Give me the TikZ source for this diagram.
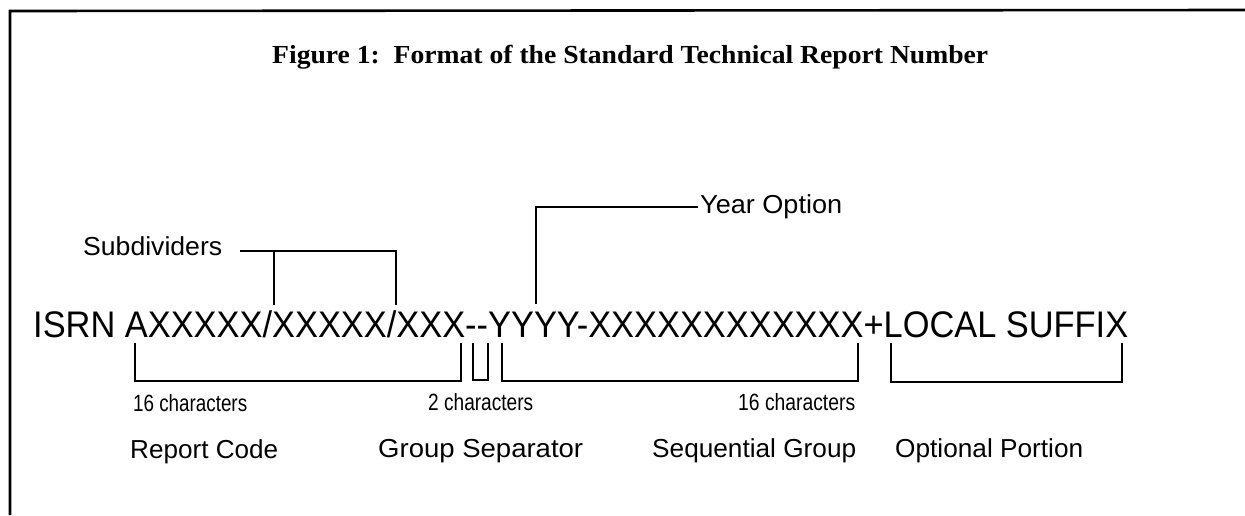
\documentclass[tikz,border=0pt]{standalone}
\usepackage{fontspec}
\usepackage{graphicx}
\setmainfont{Liberation Sans}
\newfontfamily\titlefont{Liberation Serif}
\newcommand\fitto[2]{\resizebox{#1pt}{\height}{#2}}
\begin{document}
\begin{tikzpicture}[x=1pt,y=-1pt,
  txt/.style={inner sep=0pt, anchor=base west},
  lbl/.style={txt, font=\fontsize{26}{30}\selectfont},
  small/.style={txt, font=\fontsize{23.5}{28}\selectfont},
  big/.style={txt, font=\fontsize{37}{42}\selectfont},
  ttl/.style={txt, font=\titlefont\bfseries\fontsize{26}{30}\selectfont},
  frame/.style={line width=2.6pt},
  brk/.style={line width=2.2pt}]
\useasboundingbox (0,0) rectangle (1245,515);
% frame (top and left edges)
\coordinate (fTL) at (10,11);
\coordinate (fTR) at (1245,10);
\coordinate (fBL) at (10,515);
\draw[frame] (fBL) -- (fTL) -- (fTR);
% title
\node[ttl] (title) at (272,63) {\fitto{716}{Figure 1:\ \ Format of the Standard Technical Report Number}};
% main line
\node[big] (isrn) at (33,337) {\fitto{1095}{ISRN AXXXXX/XXXXX/XXX-{}-YYYY-XXXXXXXXXXXX+LOCAL SUFFIX}};
% upper labels
\node[lbl] (subdiv) at (83,255) {\fitto{139}{Subdividers}};
\node[lbl] (year) at (700,213) {\fitto{142}{Year Option}};
% subdividers connector
\coordinate (s0) at (240,251);
\coordinate (s1) at (274,251);
\coordinate (s2) at (396,251);
\coordinate (s1d) at (274,305);
\coordinate (s2d) at (396,305);
\draw[brk] (s0) -- (s2) -- (s2d);
\draw[brk] (s1) -- (s1d);
% year option connector
\coordinate (y0) at (536,304);
\coordinate (y1) at (698,207);
\draw[brk] (y0) |- (y1);
% brackets under main line
\coordinate (b1a) at (135,343); \coordinate (b1b) at (461,343);
\draw[brk] (b1a) -- ++(0,38) -| (b1b);
\coordinate (b2a) at (473,343); \coordinate (b2b) at (488,343);
\draw[brk] (b2a) -- ++(0,37) -| (b2b);
\coordinate (b3a) at (502,343); \coordinate (b3b) at (858,343);
\draw[brk] (b3a) -- ++(0,38) -| (b3b);
\coordinate (b4a) at (891,343); \coordinate (b4b) at (1122,343);
\draw[brk] (b4a) -- ++(0,39) -| (b4b);
% counts
\node[small] (c1) at (133,411) {\fitto{114}{16 characters}};
\node[small] (c2) at (428,410) {\fitto{105}{2 characters}};
\node[small] (c3) at (738,410) {\fitto{117}{16 characters}};
% names
\node[lbl] (n1) at (130,458) {\fitto{148}{Report Code}};
\node[lbl] (n2) at (378,457) {\fitto{205}{Group Separator}};
\node[lbl] (n3) at (652,457) {\fitto{204}{Sequential Group}};
\node[lbl] (n4) at (895,457) {\fitto{188}{Optional Portion}};
\end{tikzpicture}
\end{document}
